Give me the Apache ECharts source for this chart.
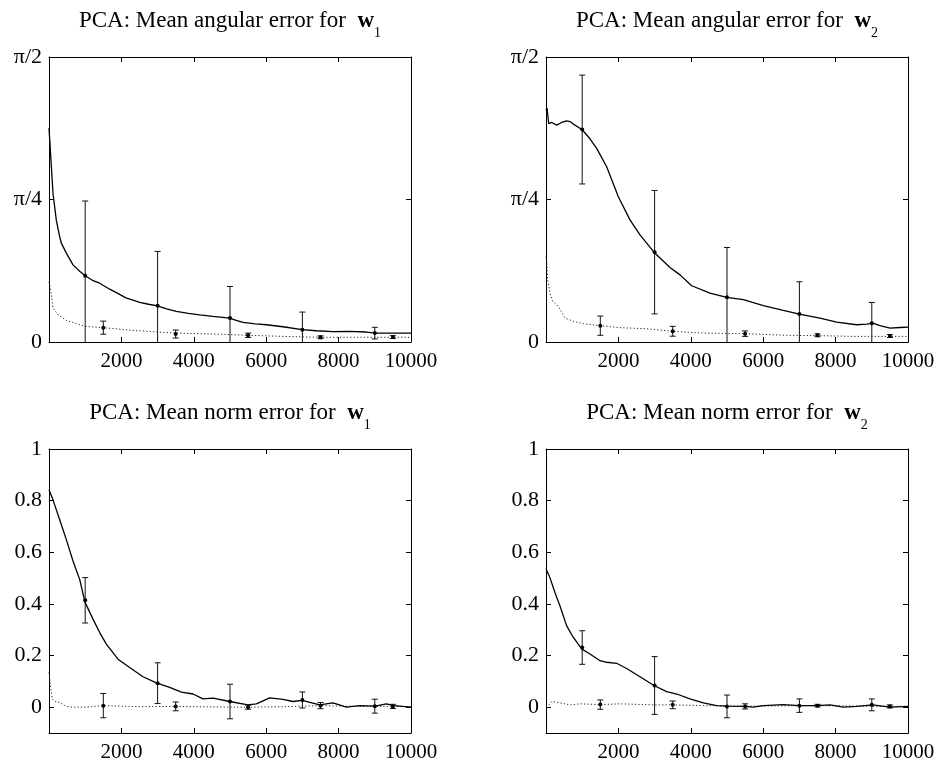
<!DOCTYPE html>
<html>
<head>
<meta charset="utf-8">
<script src="https://cdn.jsdelivr.net/npm/echarts@6/dist/echarts.min.js"></script>
<style>
  html, body { margin: 0; padding: 0; background: #fff; }
  #chart { width: 942px; height: 770px; }
</style>
</head>
<body>
<div id="chart"></div>
<script>
// [step, value] pairs
const angW1Solid = [[0,1.18],[64,0.97],[110,0.82],[203,0.67],[295,0.58],[341,0.545],[479,0.49],[663,0.425],[847,0.39],[1000,0.365],[1200,0.34],[1400,0.324],[1676,0.291],[1900,0.268],[2136,0.242],[2300,0.232],[2505,0.218],[2750,0.208],[2965,0.2],[3250,0.182],[3517,0.169],[3850,0.158],[4162,0.15],[4530,0.141],[4991,0.132],[5150,0.12],[5359,0.108],[5700,0.1],[6004,0.095],[6464,0.084],[6989,0.068],[7385,0.062],[7845,0.057],[8306,0.059],[8766,0.055],[9015,0.049],[9503,0.049],[10000,0.049]];
const angW1Dot = [[0,0.33],[18,0.325],[46,0.288],[110,0.187],[157,0.178],[249,0.15],[479,0.119],[709,0.104],[994,0.086],[1492,0.079],[2320,0.064],[3517,0.049],[4530,0.044],[5497,0.037],[6464,0.031],[7477,0.026],[8766,0.026],[10000,0.026]];
const angW2Solid = [[0,1.277],[28,1.29],[74,1.204],[157,1.21],[203,1.213],[295,1.195],[433,1.21],[571,1.219],[663,1.215],[755,1.201],[994,1.171],[1215,1.12],[1400,1.067],[1676,0.966],[1998,0.801],[2320,0.673],[2597,0.59],[2983,0.495],[3425,0.411],[3702,0.37],[4024,0.31],[4530,0.269],[4991,0.246],[5451,0.233],[6004,0.2],[6556,0.174],[6998,0.154],[7569,0.132],[8029,0.11],[8582,0.095],[8858,0.098],[9024,0.104],[9227,0.09],[9503,0.077],[9779,0.08],[10000,0.082]];
const angW2Dot = [[0,0.47],[18,0.453],[46,0.343],[110,0.269],[184,0.224],[249,0.214],[341,0.196],[525,0.132],[755,0.114],[1031,0.101],[1492,0.09],[2044,0.079],[2781,0.073],[3490,0.059],[4346,0.049],[5497,0.046],[6648,0.037],[7505,0.035],[8490,0.031],[9521,0.031],[10000,0.031]];
const normW1Solid = [[0,0.842],[110,0.803],[295,0.726],[479,0.649],[663,0.566],[847,0.495],[994,0.407],[1215,0.341],[1400,0.289],[1584,0.244],[1906,0.186],[2228,0.154],[2597,0.118],[2965,0.094],[3333,0.077],[3656,0.058],[3978,0.051],[4254,0.032],[4530,0.035],[4991,0.022],[5497,0.009],[5727,0.013],[6096,0.036],[6464,0.03],[6740,0.022],[6989,0.026],[7477,0.009],[7845,0.017],[8214,0],[8582,0.006],[9015,0.004],[9319,0.013],[9530,0.006],[10000,0]];
const normW1Dot = [[0,0.135],[37,0.084],[92,0.032],[157,0.022],[295,0.019],[479,0.003],[663,0],[994,0],[1492,0.006],[2500,0.002],[3500,0.003],[4500,0.001],[5500,0],[6500,0.002],[7500,0.006],[8500,0.003],[9500,0.003],[10000,0.002]];
const normW2Solid = [[0,0.536],[110,0.501],[249,0.443],[387,0.392],[571,0.315],[755,0.27],[994,0.225],[1215,0.206],[1492,0.18],[1676,0.174],[1952,0.17],[2228,0.15],[2597,0.118],[2983,0.084],[3333,0.06],[3610,0.051],[3978,0.032],[4346,0.017],[4715,0.006],[4991,0.004],[5497,0.003],[5727,0],[6004,0.006],[6556,0.01],[6998,0.006],[7477,0.006],[7845,0.009],[8214,0],[8582,0.003],[9024,0.009],[9503,0],[10000,0.003]];
const normW2Dot = [[0,0],[64,0.006],[157,0.022],[295,0.019],[663,0.009],[939,0.013],[1492,0.01],[2044,0.013],[2965,0.009],[3490,0.009],[4346,0.006],[5497,0.004],[7505,0.006],[9521,0.003],[10000,0.003]];

// error bars: positions, means, half-widths
const barStepsSolid = [1000, 3000, 5000, 7000, 9000];
const barStepsDot = [1500, 3500, 5500, 7500, 9500];
const angW1SolidMean = [0.365, 0.2, 0.132, 0.068, 0.049];
const angW1SolidErr = [0.412, 0.299, 0.174, 0.097, 0.032];
const angW1DotMean = [0.079, 0.044, 0.037, 0.026, 0.027];
const angW1DotErr = [0.036, 0.022, 0.012, 0.008, 0.008];
const angW2SolidMean = [1.171, 0.495, 0.246, 0.154, 0.104];
const angW2SolidErr = [0.3, 0.34, 0.275, 0.178, 0.114];
const angW2DotMean = [0.09, 0.059, 0.046, 0.037, 0.033];
const angW2DotErr = [0.053, 0.027, 0.015, 0.008, 0.008];
const normW1SolidMean = [0.414, 0.093, 0.022, 0.028, 0.004];
const normW1SolidErr = [0.088, 0.079, 0.067, 0.031, 0.027];
const normW1DotMean = [0.006, 0.003, 0, 0.006, 0.003];
const normW1DotErr = [0.047, 0.017, 0.008, 0.012, 0.008];
const normW2SolidMean = [0.231, 0.084, 0.003, 0.006, 0.009];
const normW2SolidErr = [0.065, 0.112, 0.044, 0.026, 0.023];
const normW2DotMean = [0.01, 0.009, 0.003, 0.006, 0.003];
const normW2DotErr = [0.018, 0.015, 0.01, 0.005, 0.006];

// tick labels
const xTicks = [2000, 4000, 6000, 8000, 10000];
const angTicks = [0, Math.PI / 4, Math.PI / 2];
const angTickLabels = ['0', 'π/4', 'π/2'];
const normTicks = [0, 0.2, 0.4, 0.6, 0.8, 1];

const FONT = '"Liberation Serif", "Times New Roman", serif';

const panels = [
  { name: 'angular', sub: '1', solid: angW1Solid, dot: angW1Dot,
    sm: angW1SolidMean, se: angW1SolidErr, dm: angW1DotMean, de: angW1DotErr,
    grid: { left: 49, top: 57, width: 362, height: 285 } },
  { name: 'angular', sub: '2', solid: angW2Solid, dot: angW2Dot,
    sm: angW2SolidMean, se: angW2SolidErr, dm: angW2DotMean, de: angW2DotErr,
    grid: { left: 546, top: 57, width: 362, height: 285 } },
  { name: 'norm', sub: '1', solid: normW1Solid, dot: normW1Dot,
    sm: normW1SolidMean, se: normW1SolidErr, dm: normW1DotMean, de: normW1DotErr,
    grid: { left: 49, top: 449, width: 362, height: 284 } },
  { name: 'norm', sub: '2', solid: normW2Solid, dot: normW2Dot,
    sm: normW2SolidMean, se: normW2SolidErr, dm: normW2DotMean, de: normW2DotErr,
    grid: { left: 546, top: 449, width: 362, height: 284 } }
];

function errorBar(params, api) {
  const cs = params.coordSys;
  const x = api.value(0), m = api.value(1), e = api.value(2);
  const mid = api.coord([x, m]);
  const hi = api.coord([x, m + e]);
  const lo = api.coord([x, m - e]);
  const yTop = cs.y, yBot = cs.y + cs.height;
  const style = { stroke: '#111', lineWidth: 1 };
  const kids = [{
    type: 'line',
    shape: { x1: mid[0], y1: Math.max(hi[1], yTop), x2: mid[0], y2: Math.min(lo[1], yBot) },
    style: style
  }];
  [hi[1], lo[1]].forEach(function (y) {
    if (y >= yTop && y <= yBot) {
      kids.push({ type: 'line', shape: { x1: mid[0] - 3, y1: y, x2: mid[0] + 3, y2: y }, style: style });
    }
  });
  kids.push({ type: 'circle', shape: { cx: mid[0], cy: mid[1], r: 2 }, style: { fill: '#000' } });
  return { type: 'group', children: kids };
}

function bars(steps, mean, err) {
  return steps.map(function (s, i) { return [s, mean[i], err[i]]; });
}

const grid = [], xAxis = [], yAxis = [], series = [], title = [];

panels.forEach(function (p, i) {
  grid.push(p.grid);
  const ang = p.name === 'angular';
  const yMin = ang ? 0 : -0.1;
  const yMax = ang ? Math.PI / 2 : 1;
  const yTicks = ang ? angTicks : normTicks;

  title.push({
    left: p.grid.left + p.grid.width / 2,
    top: p.grid.top - 55,
    textAlign: 'center',
    padding: 0,
    text: '{n|PCA: Mean ' + p.name + ' error for  }{w|w}{s|' + p.sub + '}',
    textStyle: {
      fontWeight: 'normal',
      rich: {
        n: { fontFamily: FONT, fontSize: 23, fontWeight: 'normal', color: '#000', lineHeight: 38 },
        w: { fontFamily: FONT, fontSize: 23, fontWeight: 'bold', color: '#000', lineHeight: 38 },
        s: { fontFamily: FONT, fontSize: 14, fontWeight: 'normal', color: '#000', lineHeight: 14, verticalAlign: 'bottom' }
      }
    }
  });

  const tick = { show: true, inside: true, length: 5, lineStyle: { color: '#000', width: 1 } };
  const line = { show: true, onZero: false, lineStyle: { color: '#000', width: 1 } };

  xAxis.push({
    gridIndex: i, type: 'value', min: 0, max: 10000, position: 'bottom',
    axisLine: line,
    axisTick: Object.assign({ customValues: xTicks }, tick),
    axisLabel: {
      customValues: xTicks, fontFamily: FONT, fontSize: 21, color: '#000', margin: 9,
      formatter: function (v) { return String(v); }
    },
    splitLine: { show: false }
  });
  xAxis.push({
    gridIndex: i, type: 'value', min: 0, max: 10000, position: 'top',
    axisLine: line,
    axisTick: Object.assign({ customValues: xTicks }, tick),
    axisLabel: { show: false },
    splitLine: { show: false }
  });
  yAxis.push({
    gridIndex: i, type: 'value', min: yMin, max: yMax, position: 'left',
    axisLine: line,
    axisTick: Object.assign({ customValues: yTicks }, tick),
    axisLabel: {
      customValues: yTicks, fontFamily: FONT, fontSize: 22, color: '#000', margin: 7,
      formatter: function (v) {
        if (ang) {
          const k = angTicks.findIndex(function (t) { return Math.abs(t - v) < 1e-6; });
          return k >= 0 ? angTickLabels[k] : '';
        }
        return v === 0 || v === 1 ? String(v) : v.toFixed(1);
      }
    },
    splitLine: { show: false }
  });
  yAxis.push({
    gridIndex: i, type: 'value', min: yMin, max: yMax, position: 'right',
    axisLine: line,
    axisTick: Object.assign({ customValues: yTicks }, tick),
    axisLabel: { show: false },
    splitLine: { show: false }
  });

  const xi = 2 * i, yi = 2 * i;
  series.push({
    type: 'line', xAxisIndex: xi, yAxisIndex: yi, data: p.dot,
    showSymbol: false, clip: true, silent: true,
    lineStyle: { color: '#222', width: 1, type: [1.2, 2.2] }
  });
  series.push({
    type: 'line', xAxisIndex: xi, yAxisIndex: yi, data: p.solid,
    showSymbol: false, clip: true, silent: true,
    lineStyle: { color: '#000', width: 1.3 }
  });
  series.push({
    type: 'custom', xAxisIndex: xi, yAxisIndex: yi,
    data: bars(barStepsSolid, p.sm, p.se), renderItem: errorBar, silent: true
  });
  series.push({
    type: 'custom', xAxisIndex: xi, yAxisIndex: yi,
    data: bars(barStepsDot, p.dm, p.de), renderItem: errorBar, silent: true
  });
});

const chart = echarts.init(document.getElementById('chart'));
chart.setOption({
  backgroundColor: '#fff',
  animation: false,
  title: title,
  grid: grid,
  xAxis: xAxis,
  yAxis: yAxis,
  series: series
});
</script>
</body>
</html>
